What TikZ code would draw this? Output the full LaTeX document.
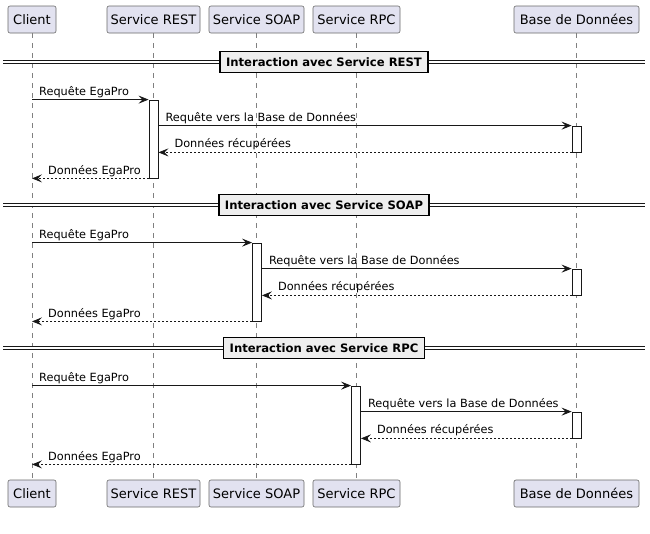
\documentclass[tikz,border=0pt]{standalone}
\usepackage{fontspec}
\setmainfont{DejaVu Sans}
\usetikzlibrary{arrows.meta,calc}
\definecolor{partfill}{HTML}{E2E2F0}
\definecolor{ink}{HTML}{181818}
\definecolor{divfill}{HTML}{EEEEEE}
\begin{document}
\begin{tikzpicture}[x=1pt,y=-1pt,
 part/.style={draw=ink!65, line width=0.6pt, fill=partfill, rounded corners=2pt, minimum height=27pt, inner sep=0pt, font=\fontsize{13}{15}\selectfont},
 life/.style={draw=ink!55, line width=0.6pt, dash pattern=on 5pt off 5pt},
 act/.style={draw=ink, line width=0.8pt, fill=white, minimum width=9pt, inner sep=0pt},
 msg/.style={draw=ink, line width=0.8pt, -{Stealth[length=10pt,width=8pt,inset=4pt]}},
 ret/.style={msg, dash pattern=on 2pt off 2pt},
 lbl/.style={font=\fontsize{11.3}{13}\selectfont, inner sep=0pt, anchor=base west},
 divbox/.style={draw=black, line width=1.4pt, fill=divfill, font=\bfseries\fontsize{11.6}{13}\selectfont, minimum height=21pt, inner xsep=6pt, inner ysep=0pt},
 dbl/.style={draw=ink, line width=0.8pt, double=white, double distance=2pt}
]
\path[use as bounding box, fill=white] (0,0) rectangle (650,533);
% participants
\foreach \n/\x/\w/\t in {C/32/48/Client, R/153.5/93/Service REST, S/256.5/95/Service SOAP, P/356.5/87/Service RPC, B/576.5/125/Base de Données}{
  \node[part, minimum width=\w pt] (\n T) at (\x,19.5) {\t};
  \node[part, minimum width=\w pt] (\n B) at (\x,493.5) {\t};
  \draw[life] (\n T) -- (\n B);
}
% sections
\foreach \s/\sx/\d/\lab in {R/153.5/62/REST, S/257/205/SOAP, P/356/348/RPC}{
  \node[divbox] (div\s) at (324,\d) {Interaction avec Service \lab};
  \coordinate (divL\s) at (3,\d);
  \coordinate (divR\s) at (645,\d);
  \draw[dbl] (divL\s) -- (div\s.west);
  \draw[dbl] (div\s.east) -- (divR\s);
  \node[act, minimum height=78pt] (a\s) at (\sx,\d+77) {};
  \node[act, minimum height=26pt] (b\s) at (576.5,\d+77) {};
  \draw[msg] (CT |- a\s.north) -- (a\s.north west);
  \node[lbl] (m1\s) at ($(CT |- a\s.north)+(7,-4)$) {Requête EgaPro};
  \draw[msg] (a\s.east |- b\s.north) -- (b\s.north west);
  \node[lbl] (m2\s) at ($(a\s.east |- b\s.north)+(7,-4)$) {Requête vers la Base de Données};
  \draw[ret] (b\s.south west) -- (a\s.east |- b\s.south);
  \node[lbl] (m3\s) at ($(a\s.east |- b\s.south)+(16,-5)$) {Données récupérées};
  \draw[ret] (a\s.south west) -- (CT |- a\s.south);
  \node[lbl] (m4\s) at ($(CT |- a\s.south)+(16,-4)$) {Données EgaPro};
}
\end{tikzpicture}
\end{document}
